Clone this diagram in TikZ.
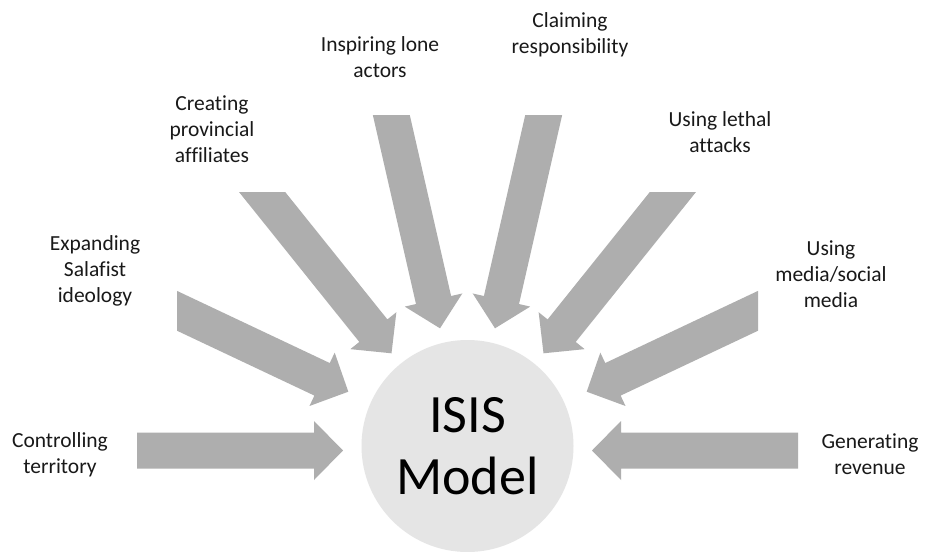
\documentclass[tikz,border=0pt]{standalone}
\usepackage{fontspec}
\setmainfont[Ligatures={NoCommon}]{Carlito}
\usetikzlibrary{calc}
\definecolor{arrowgray}{RGB}{174,174,174}
\definecolor{circlegray}{RGB}{229,229,229}
\newcommand\bigarrow[3]{%
  \begin{scope}
    \clip #3;
    \coordinate (hb) at ($(#2)!29pt!(#1)$);
    \coordinate (te) at ($(#1)!-40pt!(#2)$);
    \fill[arrowfill] (#2)
      -- ($(hb)!29.5pt!90:(#2)$)
      -- ($(hb)!18pt!90:(#2)$)
      -- ($(te)!18pt!90:(#2)$)
      -- ($(te)!18pt!-90:(#2)$)
      -- ($(hb)!18pt!-90:(#2)$)
      -- ($(hb)!29.5pt!-90:(#2)$)
      -- cycle;
  \end{scope}}
\begin{document}
\begin{tikzpicture}[x=1pt,y=-1pt,
  lbl/.style={font=\fontsize{21.5}{26}\selectfont, align=center, text=black!90, inner sep=0pt},
  arrowfill/.style={fill=arrowgray}]
\useasboundingbox[fill=white] (0,0) rectangle (928,551);
\node[circle, fill=circlegray, minimum size=212pt, inner sep=0pt,
      font=\fontsize{54}{62}\selectfont, align=center] (isis) at (467.5,446) {ISIS\\Model};
% arrow coordinates (tail centre, tip)
\coordinate (t1) at (137,450.5);   \coordinate (p1) at (343,450.5);
\coordinate (t8) at (798,450.5);   \coordinate (p8) at (592,450.5);
\coordinate (tE) at (177,310.8);   \coordinate (pE) at (348.3,391.7);
\coordinate (t6) at (758,310.8);   \coordinate (p6) at (586.7,391.7);
\coordinate (t2) at (262.5,192.5); \coordinate (p2) at (391.5,353.3);
\coordinate (t5) at (672.5,192.5); \coordinate (p5) at (543.5,353.3);
\coordinate (t3) at (391.3,115);   \coordinate (p3) at (440,328.3);
\coordinate (t4) at (543.7,115);   \coordinate (p4) at (495,328.3);
\bigarrow{t1}{p1}{(137,0) rectangle (928,551)}
\bigarrow{t8}{p8}{(0,0) rectangle (798,551)}
\bigarrow{tE}{pE}{(177,0) rectangle (928,551)}
\bigarrow{t6}{p6}{(0,0) rectangle (758,551)}
\bigarrow{t2}{p2}{(0,192.5) rectangle (928,551)}
\bigarrow{t5}{p5}{(0,192.5) rectangle (928,551)}
\bigarrow{t3}{p3}{(0,115) rectangle (928,551)}
\bigarrow{t4}{p4}{(0,115) rectangle (928,551)}
% labels
\node[lbl] (l1) at (60,455) {Controlling\\territory};
\node[lbl] (l8) at (870,454) {Generating\\revenue};
\node[lbl] (lE) at (95,271) {Expanding\\Salafist\\ideology};
\node[lbl] (l2) at (212,129) {Creating\\provincial\\affiliates};
\node[lbl] (l3) at (380,57) {Inspiring lone\\actors};
\node[lbl] (l4) at (570,35) {Claiming\\responsibility};
\node[lbl] (l5) at (720,132) {Using lethal\\attacks};
\node[lbl] (l6) at (831,274) {Using\\media/social\\media};
\end{tikzpicture}
\end{document}
